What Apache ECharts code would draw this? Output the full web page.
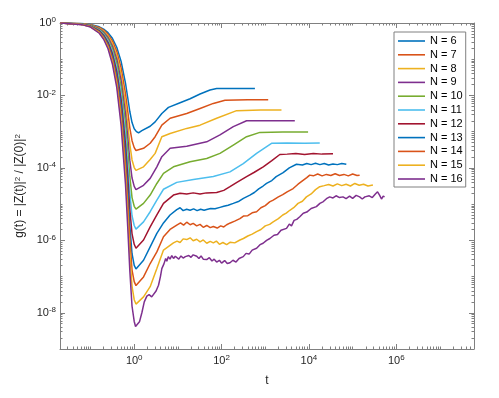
<!DOCTYPE html>
<html>
<head>
<meta charset="utf-8">
<script src="https://cdn.jsdelivr.net/npm/echarts@6/dist/echarts.min.js"></script>
<style>
html, body { margin: 0; padding: 0; background: #fff; }
#main { width: 499px; height: 398px; }
</style>
</head>
<body>
<div id="main"></div>
<script>
// every point is [log10(t), log10(g)]
var names = ['N = 6', 'N = 7', 'N = 8', 'N = 9', 'N = 10', 'N = 11', 'N = 12', 'N = 13', 'N = 14', 'N = 15', 'N = 16'];

var n6 = [[-1.69,0],[-1.2,-0.017],[-1.0,-0.042],[-0.8,-0.106],[-0.7,-0.168],[-0.6,-0.267],[-0.5,-0.423],[-0.4,-0.67],[-0.3,-1.06],[-0.2,-1.66],[-0.15,-2.05],[-0.1,-2.45],[-0.05,-2.75],[0,-2.92],[0.05,-3.0],[0.099,-3.03],[0.175,-2.97],[0.365,-2.85],[0.479,-2.73],[0.632,-2.50],[0.784,-2.33],[1.05,-2.20],[1.279,-2.09],[1.507,-1.96],[1.735,-1.85],[1.887,-1.81],[2.3,-1.81],[2.763,-1.81]];
var n7 = [[-1.69,0],[-1.2,-0.02],[-1.0,-0.049],[-0.8,-0.124],[-0.7,-0.197],[-0.6,-0.312],[-0.5,-0.494],[-0.4,-0.78],[-0.3,-1.24],[-0.2,-1.95],[-0.15,-2.42],[-0.1,-2.9],[-0.05,-3.25],[0,-3.44],[0.04,-3.52],[0.084,-3.55],[0.213,-3.46],[0.365,-3.32],[0.479,-3.14],[0.632,-2.82],[0.822,-2.63],[1.202,-2.50],[1.507,-2.36],[1.811,-2.22],[2.078,-2.13],[2.6,-2.12],[3.067,-2.12]];
var n8 = [[-1.69,0],[-1.2,-0.022],[-1.0,-0.056],[-0.8,-0.142],[-0.7,-0.224],[-0.6,-0.356],[-0.5,-0.564],[-0.4,-0.89],[-0.3,-1.42],[-0.2,-2.22],[-0.15,-2.78],[-0.1,-3.35],[-0.05,-3.78],[0,-3.99],[0.04,-4.07],[0.084,-4.09],[0.213,-3.97],[0.365,-3.77],[0.479,-3.60],[0.632,-3.14],[0.822,-3.05],[1.202,-2.91],[1.507,-2.82],[1.887,-2.63],[2.344,-2.42],[2.9,-2.40],[3.371,-2.40]];
var n9 = [[-1.69,0],[-1.2,-0.025],[-1.0,-0.064],[-0.8,-0.159],[-0.7,-0.253],[-0.6,-0.4],[-0.5,-0.635],[-0.4,-1.0],[-0.3,-1.59],[-0.2,-2.5],[-0.15,-3.13],[-0.1,-3.8],[-0.05,-4.28],[0,-4.51],[0.04,-4.6],[0.084,-4.63],[0.213,-4.48],[0.365,-4.29],[0.518,-3.97],[0.632,-3.69],[0.822,-3.46],[1.202,-3.40],[1.659,-3.28],[1.963,-3.09],[2.268,-2.86],[2.572,-2.70],[3.1,-2.70],[3.676,-2.70]];
var n10 = [[-1.69,0],[-1.2,-0.028],[-1.0,-0.07],[-0.8,-0.177],[-0.7,-0.281],[-0.6,-0.445],[-0.5,-0.705],[-0.4,-1.11],[-0.3,-1.77],[-0.2,-2.78],[-0.15,-3.48],[-0.1,-4.25],[-0.05,-4.82],[0,-5.06],[0.04,-5.14],[0.084,-5.17],[0.213,-4.98],[0.365,-4.75],[0.518,-4.43],[0.67,-4.15],[0.898,-3.97],[1.279,-3.83],[1.659,-3.74],[1.963,-3.60],[2.268,-3.37],[2.572,-3.14],[2.877,-3.02],[3.4,-3.01],[3.98,-3.01]];
var n11 = [[-1.69,0],[-1.2,-0.031],[-1.0,-0.078],[-0.8,-0.195],[-0.7,-0.309],[-0.6,-0.49],[-0.5,-0.776],[-0.4,-1.23],[-0.3,-1.95],[-0.2,-3.06],[-0.15,-3.85],[-0.1,-4.7],[-0.05,-5.32],[0,-5.59],[0.04,-5.69],[0.084,-5.72],[0.213,-5.49],[0.365,-5.21],[0.518,-4.89],[0.67,-4.59],[0.974,-4.40],[1.355,-4.32],[1.811,-4.24],[2.192,-4.11],[2.496,-3.88],[2.801,-3.60],[3.143,-3.32],[3.5,-3.31],[3.9,-3.32],[4.247,-3.31]];
var n12 = [[-1.69,0],[-1.2,-0.034],[-1.0,-0.085],[-0.8,-0.212],[-0.7,-0.337],[-0.6,-0.534],[-0.5,-0.846],[-0.4,-1.34],[-0.3,-2.12],[-0.2,-3.34],[-0.15,-4.2],[-0.1,-5.15],[-0.05,-5.82],[0,-6.11],[0.04,-6.22],[0.084,-6.25],[0.213,-5.99],[0.365,-5.63],[0.518,-5.30],[0.67,-4.98],[0.898,-4.75],[1.05,-4.70],[1.202,-4.72],[1.35,-4.69],[1.507,-4.72],[1.65,-4.69],[1.887,-4.68],[2.05,-4.62],[2.192,-4.52],[2.35,-4.40],[2.572,-4.24],[2.75,-4.12],[2.953,-3.97],[3.15,-3.80],[3.333,-3.63],[3.5,-3.62],[3.7,-3.60],[3.9,-3.63],[4.1,-3.60],[4.3,-3.62],[4.551,-3.61]];
var n13 = [[-1.69,0],[-1.2,-0.036],[-1.0,-0.092],[-0.8,-0.23],[-0.7,-0.365],[-0.6,-0.579],[-0.5,-0.917],[-0.4,-1.45],[-0.3,-2.3],[-0.2,-3.62],[-0.15,-4.55],[-0.1,-5.6],[-0.05,-6.37],[0,-6.69],[0.04,-6.79],[0.084,-6.82],[0.213,-6.55],[0.365,-6.18],[0.518,-5.81],[0.67,-5.52],[0.82,-5.30],[0.974,-5.15],[1.05,-5.10],[1.12,-5.18],[1.2,-5.14],[1.279,-5.17],[1.36,-5.13],[1.44,-5.18],[1.52,-5.14],[1.6,-5.17],[1.659,-5.15],[1.75,-5.12],[1.85,-5.13],[1.963,-5.09],[2.05,-5.06],[2.15,-5.03],[2.268,-4.98],[2.4,-4.92],[2.5,-4.84],[2.648,-4.75],[2.75,-4.68],[2.85,-4.58],[2.95,-4.50],[3.029,-4.43],[3.15,-4.35],[3.25,-4.24],[3.409,-4.13],[3.55,-4.0],[3.714,-3.90],[3.85,-3.92],[3.95,-3.88],[4.05,-3.91],[4.15,-3.87],[4.25,-3.91],[4.35,-3.88],[4.45,-3.92],[4.55,-3.89],[4.65,-3.91],[4.75,-3.88],[4.855,-3.90]];
var n14 = [[-1.69,0],[-1.2,-0.039],[-1.0,-0.099],[-0.8,-0.248],[-0.7,-0.393],[-0.6,-0.623],[-0.5,-0.987],[-0.4,-1.56],[-0.3,-2.48],[-0.2,-3.9],[-0.15,-4.9],[-0.1,-5.95],[-0.05,-6.82],[0,-7.14],[0.04,-7.25],[0.084,-7.28],[0.213,-7.01],[0.365,-6.64],[0.518,-6.32],[0.67,-5.90],[0.82,-5.70],[0.974,-5.58],[1.06,-5.52],[1.13,-5.58],[1.202,-5.50],[1.28,-5.57],[1.35,-5.53],[1.43,-5.60],[1.507,-5.56],[1.58,-5.64],[1.66,-5.59],[1.74,-5.65],[1.811,-5.62],[1.9,-5.66],[1.98,-5.60],[2.05,-5.63],[2.116,-5.57],[2.2,-5.52],[2.3,-5.47],[2.42,-5.40],[2.5,-5.33],[2.6,-5.32],[2.7,-5.24],[2.801,-5.21],[2.9,-5.10],[3.0,-5.04],[3.1,-4.94],[3.181,-4.89],[3.3,-4.80],[3.4,-4.74],[3.5,-4.66],[3.638,-4.57],[3.75,-4.45],[3.85,-4.36],[3.95,-4.27],[4.018,-4.20],[4.1,-4.22],[4.2,-4.17],[4.3,-4.22],[4.4,-4.18],[4.5,-4.21],[4.6,-4.16],[4.7,-4.21],[4.8,-4.18],[4.9,-4.22],[5.0,-4.17],[5.1,-4.21],[5.16,-4.20]];
var n15 = [[-1.69,0],[-1.2,-0.042],[-1.0,-0.106],[-0.8,-0.266],[-0.7,-0.421],[-0.6,-0.668],[-0.5,-1.06],[-0.4,-1.67],[-0.3,-2.66],[-0.2,-4.18],[-0.15,-5.25],[-0.1,-6.4],[-0.05,-7.27],[0,-7.64],[0.04,-7.76],[0.084,-7.79],[0.213,-7.56],[0.365,-7.28],[0.518,-6.78],[0.67,-6.27],[0.898,-6.07],[0.98,-6.02],[1.05,-6.06],[1.12,-5.96],[1.202,-5.98],[1.28,-5.93],[1.35,-6.01],[1.43,-5.97],[1.507,-6.04],[1.58,-5.99],[1.66,-6.08],[1.74,-6.03],[1.811,-6.07],[1.88,-6.02],[1.95,-6.11],[2.03,-6.06],[2.116,-6.12],[2.2,-6.05],[2.3,-6.07],[2.42,-5.99],[2.5,-5.95],[2.6,-5.88],[2.7,-5.83],[2.801,-5.76],[2.9,-5.70],[3.0,-5.60],[3.1,-5.56],[3.181,-5.49],[3.3,-5.40],[3.4,-5.30],[3.48,-5.25],[3.562,-5.17],[3.65,-5.10],[3.75,-4.98],[3.85,-4.92],[3.942,-4.80],[4.05,-4.72],[4.15,-4.60],[4.247,-4.52],[4.35,-4.49],[4.45,-4.46],[4.55,-4.50],[4.65,-4.44],[4.75,-4.49],[4.85,-4.45],[4.95,-4.50],[5.05,-4.43],[5.15,-4.48],[5.25,-4.45],[5.35,-4.50],[5.464,-4.47]];
var n16 = [[-1.69,0],[-1.2,-0.045],[-1.0,-0.113],[-0.8,-0.283],[-0.7,-0.449],[-0.6,-0.712],[-0.5,-1.13],[-0.4,-1.78],[-0.3,-2.83],[-0.2,-4.45],[-0.15,-5.6],[-0.1,-6.85],[-0.05,-7.82],[0,-8.24],[0.03,-8.38],[0.068,-8.43],[0.12,-8.25],[0.175,-8.0],[0.23,-7.7],[0.289,-7.54],[0.34,-7.50],[0.40,-7.56],[0.441,-7.54],[0.5,-7.40],[0.556,-7.24],[0.6,-7.0],[0.632,-6.78],[0.68,-6.65],[0.72,-6.50],[0.746,-6.58],[0.78,-6.45],[0.82,-6.52],[0.86,-6.42],[0.9,-6.50],[0.94,-6.44],[0.974,-6.47],[1.02,-6.52],[1.07,-6.43],[1.12,-6.49],[1.17,-6.45],[1.202,-6.50],[1.25,-6.42],[1.3,-6.47],[1.35,-6.40],[1.431,-6.44],[1.48,-6.50],[1.53,-6.43],[1.58,-6.52],[1.659,-6.53],[1.72,-6.48],[1.78,-6.57],[1.83,-6.52],[1.887,-6.60],[1.95,-6.55],[2.0,-6.63],[2.07,-6.56],[2.13,-6.64],[2.192,-6.62],[2.26,-6.55],[2.33,-6.60],[2.4,-6.50],[2.496,-6.45],[2.56,-6.36],[2.63,-6.38],[2.7,-6.27],[2.801,-6.22],[2.88,-6.12],[2.95,-6.08],[3.03,-6.0],[3.105,-5.95],[3.2,-5.86],[3.28,-5.84],[3.36,-5.72],[3.486,-5.67],[3.55,-5.55],[3.6,-5.60],[3.66,-5.45],[3.72,-5.42],[3.79,-5.35],[3.87,-5.25],[3.95,-5.22],[4.05,-5.12],[4.17,-5.07],[4.25,-4.98],[4.33,-4.93],[4.4,-4.85],[4.475,-4.80],[4.55,-4.83],[4.62,-4.77],[4.7,-4.82],[4.779,-4.80],[4.85,-4.85],[4.93,-4.78],[5.0,-4.84],[5.08,-4.76],[5.16,-4.80],[5.22,-4.86],[5.28,-4.80],[5.312,-4.84],[5.38,-4.77],[5.45,-4.82],[5.52,-4.72],[5.57,-4.66],[5.616,-4.75],[5.66,-4.86],[5.7,-4.78],[5.731,-4.80]];

var curves = [n6, n7, n8, n9, n10, n11, n12, n13, n14, n15, n16];

// axis range as exponents, labelled decades
var xRange = [-1.699, 7.778];
var yRange = [-9, 0];
var xLabels = [0, 2, 4, 6];
var yLabels = [-8, -6, -4, -2, 0];

var colors = ['#0072BD', '#D95319', '#EDB120', '#7E2F8E', '#77AC30', '#4DBEEE', '#A2142F'];
var axisColor = '#808080';
var font = '"Liberation Sans", Arial, sans-serif';

function minorTicks(range, majors) {
  var out = [];
  for (var n = Math.floor(range[0]) - 1; n <= Math.ceil(range[1]); n++) {
    for (var k = 1; k <= 9; k++) {
      var v = n + Math.log10(k);
      if (v < range[0] || v > range[1]) continue;
      if (k === 1 && majors.indexOf(n) >= 0) continue;
      out.push(v);
    }
  }
  return out;
}

function powLabel(v) {
  return '{b|10}{s|' + Math.round(v) + '}';
}

var labelRich = {
  b: { fontSize: 11, fontFamily: font, color: '#262626', lineHeight: 14 },
  s: { fontSize: 8, fontFamily: font, color: '#262626', verticalAlign: 'top', lineHeight: 9 }
};

function axis(pos, range, ticks, len, line, label) {
  var a = {
    type: 'value',
    position: pos,
    min: range[0],
    max: range[1],
    axisLine: { show: line, onZero: false, lineStyle: { color: axisColor, width: 1 } },
    axisTick: { show: true, inside: true, length: len, customValues: ticks, lineStyle: { color: axisColor, width: 1 } },
    axisLabel: { show: false },
    splitLine: { show: false }
  };
  if (label) {
    a.axisLabel = {
      show: true,
      customValues: label,
      formatter: powLabel,
      rich: labelRich,
      margin: pos === 'left' ? 4 : 5
    };
  }
  return a;
}

var xMinor = minorTicks(xRange, xLabels);
var yMinor = minorTicks(yRange, yLabels);

var xAxes = [
  axis('bottom', xRange, xLabels, 5, true, xLabels),
  axis('bottom', xRange, xMinor, 2.5, false),
  axis('top', xRange, xLabels, 5, true),
  axis('top', xRange, xMinor, 2.5, false)
];
xAxes[0].name = 't';
xAxes[0].nameLocation = 'middle';
xAxes[0].nameGap = 26;
xAxes[0].nameTextStyle = { fontSize: 12, fontFamily: font, color: '#262626' };

var yAxes = [
  axis('left', yRange, yLabels, 5, true, yLabels),
  axis('left', yRange, yMinor, 2.5, false),
  axis('right', yRange, yLabels, 5, true),
  axis('right', yRange, yMinor, 2.5, false)
];
yAxes[0].name = 'g(t) = |Z(t)|{s|2} / |Z(0)|{s|2}';
yAxes[0].nameLocation = 'middle';
yAxes[0].nameGap = 26;
yAxes[0].nameTextStyle = {
  fontSize: 12, fontFamily: font, color: '#262626',
  rich: {
    s: { fontSize: 8, fontFamily: font, color: '#262626', verticalAlign: 'top', lineHeight: 9 }
  }
};

var series = [];
for (var i = 0; i < curves.length; i++) {
  series.push({
    name: names[i],
    type: 'line',
    data: curves[i],
    xAxisIndex: 0,
    yAxisIndex: 0,
    symbol: 'none',
    clip: true,
    lineStyle: { width: 1.5, color: colors[i % colors.length] },
    itemStyle: { color: colors[i % colors.length] }
  });
}

var chart = echarts.init(document.getElementById('main'));
chart.setOption({
  animation: false,
  backgroundColor: '#fff',
  grid: { left: 60, right: 25, top: 23, bottom: 49, containLabel: false },
  xAxis: xAxes,
  yAxis: yAxes,
  legend: {
    orient: 'vertical',
    left: 394,
    top: 32,
    padding: [3, 3, 2, 4],
    itemGap: 1.8,
    itemWidth: 27,
    itemHeight: 1.6,
    icon: 'rect',
    selectedMode: false,
    backgroundColor: '#fff',
    borderColor: axisColor,
    borderWidth: 1,
    textStyle: { fontSize: 11, lineHeight: 12, fontFamily: font, color: '#000' },
    data: names
  },
  series: series
});
</script>
</body>
</html>
